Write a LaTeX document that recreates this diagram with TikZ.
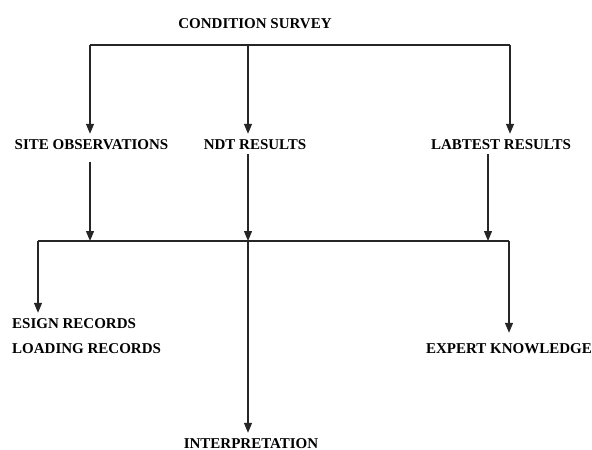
\documentclass[tikz,border=0pt]{standalone}
\usepackage{fontspec}
\setmainfont{Liberation Serif}
\usetikzlibrary{arrows.meta}
\tikzset{
  lbl/.style={font=\bfseries\fontsize{15}{15}\selectfont, inner xsep=0pt, inner ysep=5pt, text height=10pt, text depth=0pt},
  conn/.style={line width=1.2pt, draw=black!85},
  arr/.style={conn, -{Triangle[length=10pt,width=8pt]}}
}
\begin{document}
\begin{tikzpicture}[x=1pt,y=-1pt]
\useasboundingbox (0,0) rectangle (592,450);
% nodes
\node[lbl] (cs) at (255,23) {CONDITION SURVEY};
\node[lbl] (so) at (91.5,144) {SITE OBSERVATIONS};
\node[lbl] (ndt) at (255,144) {NDT RESULTS};
\node[lbl] (lab) at (501,144) {LABTEST RESULTS};
\node[lbl, anchor=west] (esign) at (12,323) {ESIGN RECORDS};
\node[lbl, anchor=west] (load) at (12,348) {LOADING RECORDS};
\node[lbl] (expert) at (509,348) {EXPERT KNOWLEDGE};
\node[lbl] (interp) at (251,443) {INTERPRETATION};
% junctions
\coordinate (a1) at (90,45);
\coordinate (a2) at (248,45);
\coordinate (a3) at (510,45);
\coordinate (b1) at (38,241);
\coordinate (b2) at (90,241);
\coordinate (b3) at (248,241);
\coordinate (b4) at (488,241);
\coordinate (b5) at (509,241);
% top distribution
\draw[conn] (a1) -- (a3);
\draw[arr] (a1) -- (a1 |- so.north);
\draw[arr] (a2) -- (a2 |- ndt.north);
\draw[arr] (a3) -- (a3 |- lab.north);
% into collector
\draw[arr] (so.south -| b2) ++(0,8) -- (b2);
\draw[arr] (ndt.south -| b3) -- (b3);
\draw[arr] (lab.south -| b4) -- (b4);
\draw[conn] (b1) -- (b5);
% outputs
\draw[arr] (b1) -- (b1 |- esign.north);
\draw[arr, shorten >=5pt] (b5) -- (b5 |- expert.north);
\draw[arr] (b3) -- (b3 |- interp.north);
\end{tikzpicture}
\end{document}
